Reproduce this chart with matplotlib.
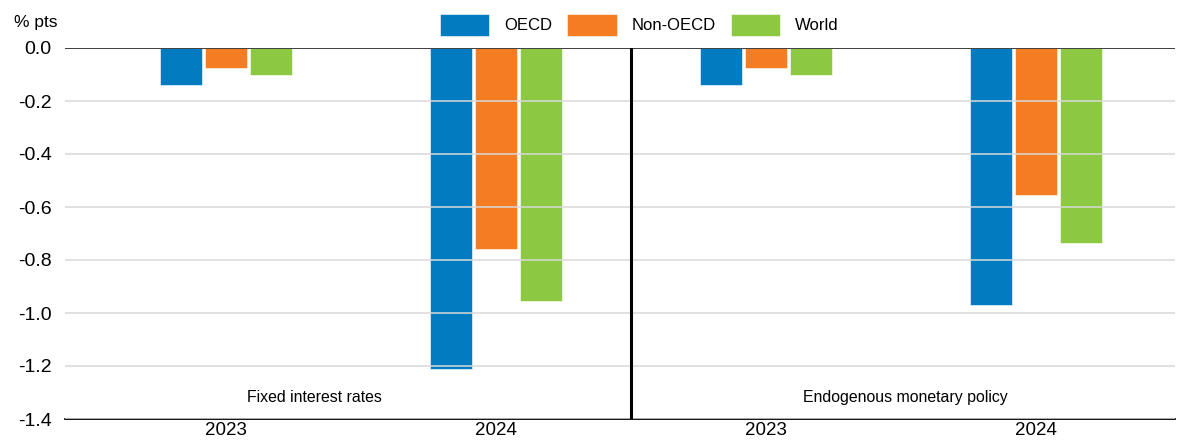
import numpy as np
import matplotlib
matplotlib.use("Agg")
import matplotlib.pyplot as plt

plt.rcParams["font.family"] = ["Liberation Sans", "DejaVu Sans"]

# values (% pts)
years = ["2023", "2024", "2023", "2024"]
panels = ["Fixed interest rates", "Endogenous monetary policy"]
series = ["OECD", "Non-OECD", "World"]
oecd = [-0.14, -1.21, -0.14, -0.97]
non_oecd = [-0.075, -0.76, -0.075, -0.555]
world = [-0.102, -0.956, -0.102, -0.735]
yticks = [-1.4, -1.2, -1.0, -0.8, -0.6, -0.4, -0.2, 0.0]
colors = ["#037bc1", "#f47d23", "#8cc841"]

fig = plt.figure(figsize=(11.84, 4.41), dpi=100)
ax = fig.add_axes([65 / 1184, 22 / 441, 1110 / 1184, 371 / 441])

x = np.arange(len(years))
w, step = 0.158, 0.1667
for k, (name, vals) in enumerate(zip(series, [oecd, non_oecd, world])):
    ax.bar(x + (k - 1) * step, vals, w, color=colors[k], label=name,
           edgecolor="white", linewidth=0.4, zorder=2)

ax.set_ylim(-1.4, 0)
ax.set_xlim(-0.596, 3.515)
ax.set_yticks(yticks)
ax.set_yticklabels([f"{v:.1f}" if v != 0 else "0.0" for v in yticks])
ax.set_xticks(x)
ax.set_xticklabels(years)
ax.tick_params(length=0, labelsize=14)
ax.tick_params(axis="x", pad=2.5, labelsize=13.5)
ax.tick_params(axis="y", pad=9.5)
ax.grid(axis="y", color="#d9d9d9", linewidth=1.1, zorder=3)
ax.set_axisbelow(False)
for s in ["top", "right", "left"]:
    ax.spines[s].set_visible(False)
ax.spines["bottom"].set_linewidth(1.3)
ax.axhline(0, color="#333333", linewidth=1.3, zorder=4)
ax.axvline(1.5, color="black", linewidth=2.2, zorder=4)

ax.text(0.326, -1.32, panels[0], ha="center", va="center", fontsize=11.4)
ax.text(2.515, -1.32, panels[1], ha="center", va="center", fontsize=11.4)

fig.text(14 / 1184, 1 - 22 / 441, "% pts", fontsize=12.5, va="center")

fig.legend(loc="center", bbox_to_anchor=(0.54, 1 - 25 / 441), ncol=3,
           frameon=False, fontsize=12, handlelength=2.95, handleheight=1.7,
           handletextpad=0.9, columnspacing=0.9)

fig.savefig("out.png", dpi=100)
